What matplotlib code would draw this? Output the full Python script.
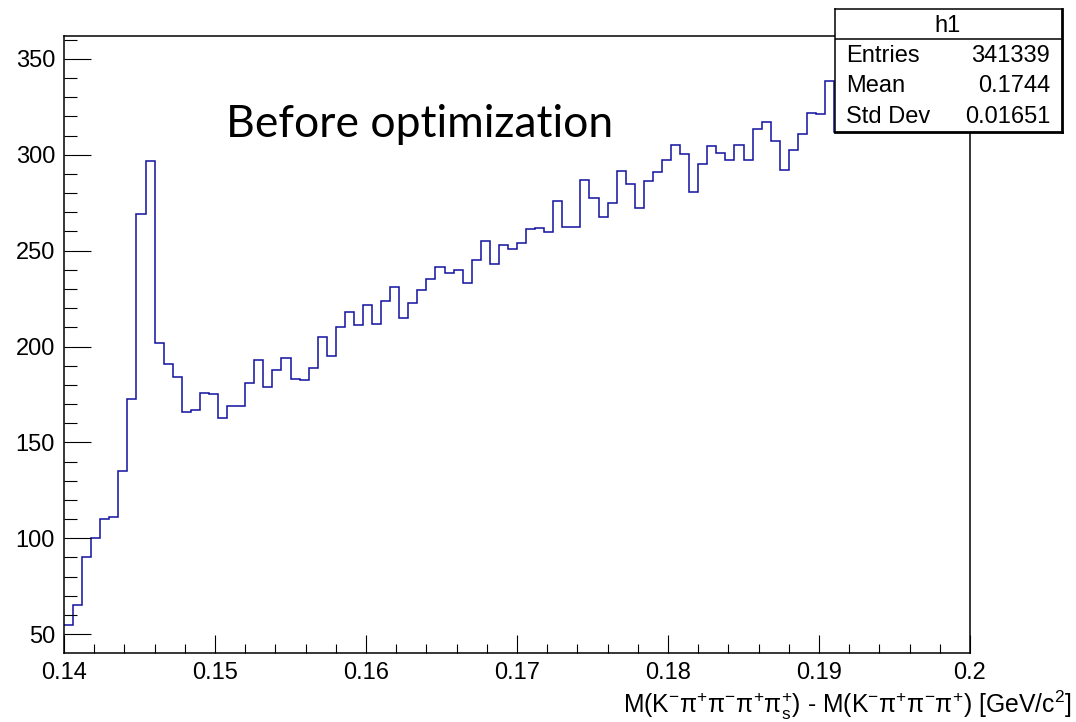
import numpy as np
import matplotlib
matplotlib.use("Agg")
import matplotlib.pyplot as plt
from matplotlib.ticker import MultipleLocator

plt.rcParams["font.family"] = ["Liberation Sans", "DejaVu Sans"]
plt.rcParams["mathtext.fontset"] = "custom"
plt.rcParams["mathtext.rm"] = "Liberation Sans"
plt.rcParams["mathtext.it"] = "Liberation Sans:italic"

# Histogram h1: 100 bins of the mass difference between 0.14 and 0.2 GeV/c^2
x_min, x_max = 0.14, 0.20
n_bins = 100
counts = [
    55, 65, 90, 100, 110, 111, 135, 172.5, 269, 297,
    202, 191, 184, 166, 167, 176, 175, 163, 169, 169,
    181, 193, 179, 188, 194, 183, 182.5, 189, 205, 195,
    210, 218, 211, 221.5, 212, 224, 231, 215, 222.5, 229.5,
    235, 241.5, 238.5, 240, 233, 245, 255, 243, 253, 251,
    254, 261.5, 262, 259.5, 276, 262.5, 262.5, 287, 277.5, 267.5,
    275, 291.5, 285, 272, 286.5, 291, 297.5, 305, 300.5, 280.5,
    295, 304.5, 301, 297.5, 305, 297.5, 313.5, 317, 307, 292,
    302.5, 311, 322, 321.5, 338.5, 312, 330, 325, 340, 335,
    347, 333, 338, 342, 336, 345, 340, 338, 344, 341,
]
stat_title = "h1"
stat_names = ["Entries", "Mean", "Std Dev"]
stat_values = ["341339", "0.1744", "0.01651"]
x_label = (r"M(K$^{-}\mathrm{\pi}^{+}\mathrm{\pi}^{-}\mathrm{\pi}^{+}"
           r"\mathrm{\pi}_{\mathrm{s}}^{+}$) - M(K$^{-}\mathrm{\pi}^{+}"
           r"\mathrm{\pi}^{-}\mathrm{\pi}^{+}$) [GeV/c$^{2}$]")
annotation = "Before optimization"

W, H = 1076, 722
fig = plt.figure(figsize=(W / 100, H / 100), dpi=100)
fig.patch.set_facecolor("white")

ax = fig.add_axes([64 / W, (H - 653) / H, (970 - 64) / W, (653 - 35.5) / H])
edges = np.linspace(x_min, x_max, n_bins + 1)
ax.stairs(counts, edges, color="#1010a0", linewidth=1.1, baseline=None)

ax.set_xlim(x_min, x_max)
ax.set_ylim(40.2, 362.2)

ax.xaxis.set_major_locator(MultipleLocator(0.01))
ax.xaxis.set_minor_locator(MultipleLocator(0.002))
ax.yaxis.set_major_locator(MultipleLocator(50))
ax.yaxis.set_minor_locator(MultipleLocator(10))
ax.xaxis.set_major_formatter(plt.FuncFormatter(lambda v, p: f"{v:g}"))

ax.tick_params(axis="both", which="both", direction="in", top=False,
               right=False, width=0.8, labelsize=17, pad=6.5)
ax.yaxis.set_tick_params(which="major", length=19.4)
ax.yaxis.set_tick_params(which="minor", length=9.4)
ax.xaxis.set_tick_params(which="major", length=13)
ax.xaxis.set_tick_params(which="minor", length=6.5)
for s in ax.spines.values():
    s.set_linewidth(1.1)

fig.text(1072 / W, 1 - 713 / H, x_label, ha="right", va="baseline",
         fontsize=17.8)

fig.text(226 / W, 1 - 137 / H, annotation, ha="left", va="baseline",
         fontsize=32, family=["Lato", "DejaVu Sans"])

# Statistics box
bx0, by0, bx1, by1 = 835, 9, 1062, 132
sb = fig.add_axes([bx0 / W, 1 - by1 / H, (bx1 - bx0) / W, (by1 - by0) / H])
sb.set_xlim(bx0, bx1)
sb.set_ylim(by1, by0)
sb.set_xticks([])
sb.set_yticks([])
sb.set_facecolor("white")
for s in sb.spines.values():
    s.set_linewidth(1.1)
sb.spines["right"].set_linewidth(2.0)
sb.spines["bottom"].set_linewidth(2.0)
sb.axhline(39, color="black", linewidth=1.1)
sb.text(948, 26, stat_title, ha="center", va="center", fontsize=17)
for i, (name, val) in enumerate(zip(stat_names, stat_values)):
    yc = 56 + i * 30.5
    sb.text(846, yc, name, ha="left", va="center", fontsize=17)
    sb.text(1050, yc, val, ha="right", va="center", fontsize=17)

fig.savefig("out.png", dpi=100)
